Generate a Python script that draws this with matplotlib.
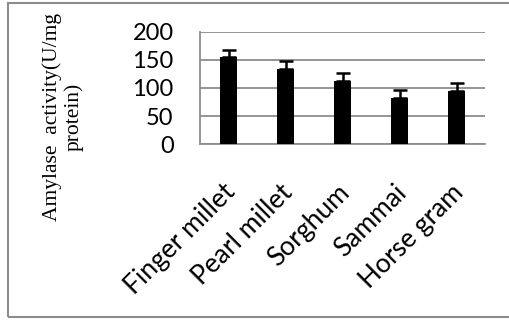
import matplotlib
matplotlib.use("Agg")
import matplotlib.pyplot as plt
from matplotlib.patches import Rectangle
from matplotlib.transforms import ScaledTranslation

categories = ["Finger millet", "Pearl millet", "Sorghum", "Sammai", "Horse gram"]
values = [155, 133, 113, 82, 95]
errors = [13, 15, 13, 14, 14]
yticks = [0, 50, 100, 150, 200]

W, H = 509, 320
fig = plt.figure(figsize=(W / 100, H / 100), dpi=100)
ax = fig.add_axes([200 / W, 1 - 144.3 / H, 285 / W, (144.3 - 31.7) / H])

x = list(range(len(categories)))
ax.bar(x, values, width=0.29, color="black", zorder=3,
       yerr=[[0] * len(errors), errors], error_kw=dict(ecolor="black", elinewidth=1.8, capsize=5, capthick=1.8, zorder=4))
ax.set_xlim(-0.5, len(categories) - 0.5)
ax.set_ylim(0, 200)
ax.set_yticks(yticks)
ax.set_yticklabels([str(t) for t in yticks], fontsize=17, family="Lato")
ax.yaxis.grid(True, color="#8c8c8c", linewidth=1.3, zorder=0)
ax.tick_params(axis="both", length=0)
ax.tick_params(axis="y", pad=19)
ax.tick_params(axis="x", pad=0)
ax.set_xticks(x)
ax.set_xticklabels(categories, rotation=45, ha="right", va="center", rotation_mode="anchor",
                   fontsize=19, family="Lato")
off = ScaledTranslation(3 / 100, -44 / 100, fig.dpi_scale_trans)
for lab in ax.get_xticklabels():
    lab.set_transform(lab.get_transform() + off)
for s in ["top", "right"]:
    ax.spines[s].set_visible(False)
for s in ["left", "bottom"]:
    ax.spines[s].set_color("#8c8c8c")
    ax.spines[s].set_linewidth(1.3)

fig.text(63 / W, 1 - 117 / H, "Amylase  activity(U/mg\nprotein)", rotation=90,
         ha="center", va="center", multialignment="center",
         fontsize=15.5, family="Liberation Serif", linespacing=1.12)

fig.patches.append(Rectangle((8 / W, 3 / H), 1.2, 1 - 6 / H, transform=fig.transFigure,
                             fill=False, edgecolor="#8c8c8c", linewidth=1.5))

fig.savefig("out.png", dpi=100)
